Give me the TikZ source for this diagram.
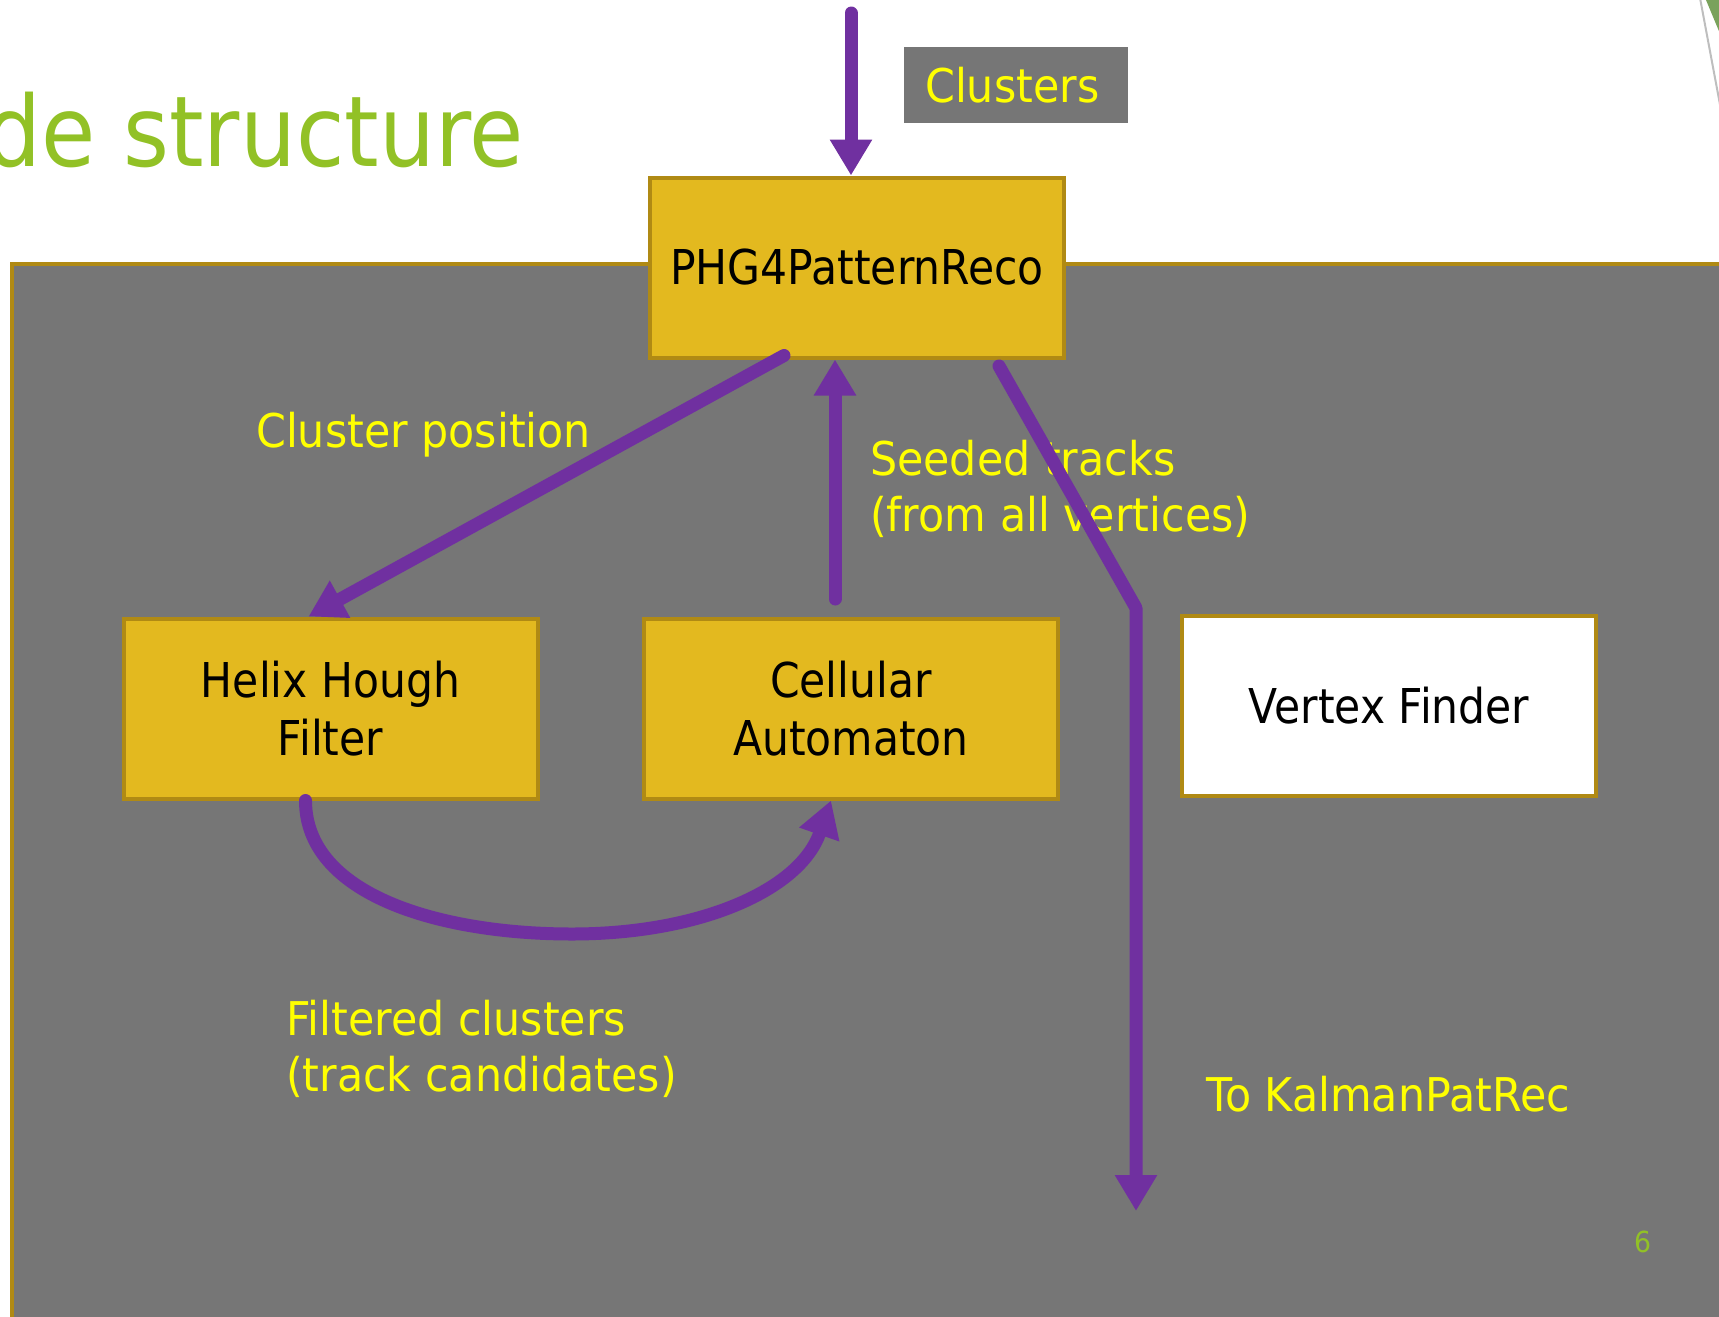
\documentclass[tikz,border=0pt]{standalone}
\usepackage{fontspec}
\usetikzlibrary{arrows.meta,calc}
\newfontfamily\labfont[FakeStretch=0.92]{DejaVu Sans}
\newfontfamily\boxfont[FakeStretch=0.885]{DejaVu Sans}
\newfontfamily\titfont[FakeStretch=0.9]{DejaVu Sans}
\definecolor{panelgray}{RGB}{118,118,118}
\definecolor{goldline}{RGB}{176,138,20}
\definecolor{boxfill}{RGB}{227,185,31}
\definecolor{flowpurple}{RGB}{112,48,160}
\definecolor{labyellow}{RGB}{255,255,0}
\definecolor{titlegreen}{RGB}{146,193,38}
\definecolor{decogreen}{RGB}{122,162,92}
\definecolor{decogray}{RGB}{190,190,190}
\tikzset{
  procbox/.style={draw=goldline, fill=boxfill, line width=4pt, minimum width=414pt,
    minimum height=180pt, inner sep=0pt, align=center, text=black,
    font=\boxfont\fontsize{48}{58}\selectfont},
  whitebox/.style={procbox, fill=white},
  lab/.style={text=labyellow, font=\labfont\fontsize{46.5}{56}\selectfont,
    inner sep=0pt, align=left},
  flow/.style={draw=flowpurple, line width=13pt, line cap=round, line join=round},
  flowarrow/.style={-{Triangle[length=36pt,width=40pt]}}
}
\begin{document}
\begin{tikzpicture}[x=1pt,y=-1pt]
\useasboundingbox (0,0) rectangle (1719,1317);
% decorations
\draw[decogray, line width=2pt] (1700,-2) -- (1721,110);
\fill[decogreen] (1706,0) -- (1721,0) -- (1721,36) -- cycle;
% title
\node[text=titlegreen, font=\titfont\fontsize{98}{100}\selectfont, anchor=base east,
  inner sep=0pt] (title) at (524,166) {de structure};
% panel
\fill[panelgray] (12,264) rectangle (1730,1330);
\draw[goldline, line width=4pt] (1730,264) -- (12,264) -- (12,1330);
% boxes
\node[procbox] (phg) at (857,267.5) {PHG4PatternReco};
\node[procbox] (helix) at (330.5,708.5) {Helix Hough\\Filter};
\node[procbox] (cell) at (851,708.5) {Cellular\\Automaton};
\node[whitebox] (vtx) at (1389,706) {Vertex Finder};
% clusters label
\node[fill=panelgray, anchor=north west, inner xsep=21pt, inner ysep=0pt,
  minimum height=76pt, text width=182pt, align=left, text=labyellow,
  font=\labfont\fontsize{46.5}{56}\selectfont] (lclusters) at (904,47) {Clusters};
% labels
\node[lab, anchor=base west] (lclusterpos) at (256,447) {Cluster position};
\node[lab, anchor=base west] (lseeded) at (870,531) {Seeded tracks\\(from all vertices)};
\node[lab, anchor=base west] (lfiltered) at (286,1091) {Filtered clusters\\(track candidates)};
\node[lab, anchor=base west] (lkalman) at (1206,1111) {To KalmanPatRec};
\node[text=titlegreen, font=\labfont\fontsize{29}{29}\selectfont, inner sep=0pt] (pgnum) at (1643,1242) {6};
% connectors
\coordinate (cin) at (851,13);
\draw[flow, flowarrow] (cin) -- (cin |- phg.north);
\draw[flow, flowarrow] ($(phg.south)+(-73,-4)$) -- ($(helix.north)+(-22,0)$);
\draw[flow, flowarrow] ($(cell.north)+(-16,-17.5)$) -- ($(phg.south)+(-22,0)$);
\coordinate (kbend) at (1136,608);
\coordinate (kout) at (1136,1211);
\draw[flow, flowarrow] ($(phg.south)+(142,6.5)$) -- (kbend) -- (kout);
\draw[flow, flowarrow] ($(helix.south)+(-25,0)$) .. controls (305.5,895) and (440,934) .. (572,934)
  .. controls (700,934) and (800,890) .. ($(cell.south)+(-20,0)$);
\end{tikzpicture}
\end{document}
